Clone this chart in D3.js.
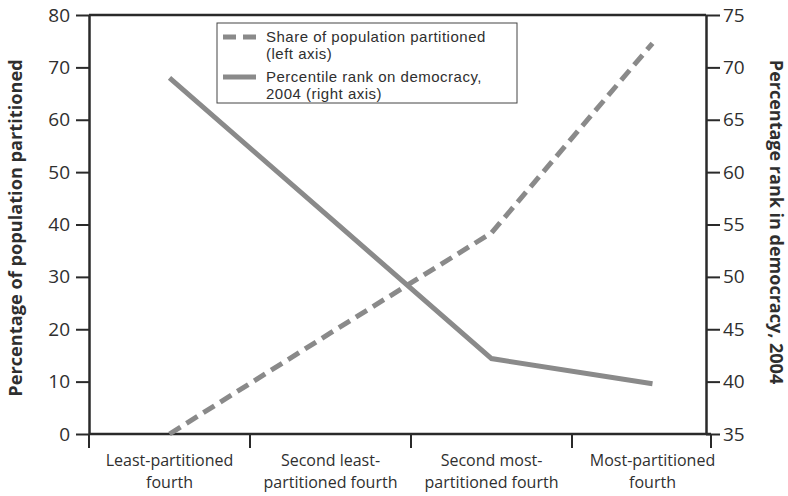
<!DOCTYPE html>
<html>
<head>
<meta charset="utf-8">
<script src="https://cdn.jsdelivr.net/npm/d3@7"></script>
<style>
  html, body { margin: 0; padding: 0; background: #fff; }
  svg { display: block; font-family: "Open Sans", sans-serif; }
</style>
</head>
<body>
<div id="chart-container"></div>
<script>
// data
const categories = ["Least-partitioned fourth", "Second least-partitioned fourth",
                    "Second most-partitioned fourth", "Most-partitioned fourth"];
const categoryLines = [["Least-partitioned", "fourth"], ["Second least-", "partitioned fourth"],
                       ["Second most-", "partitioned fourth"], ["Most-partitioned", "fourth"]];
const shareLeft = [0, 19.3, 38.4, 74.6];        // dashed, left axis
const rankRight = [69, 55.6, 42.2, 39.8];       // solid, right axis
const leftTicks = [0, 10, 20, 30, 40, 50, 60, 70, 80];
const rightTicks = [35, 40, 45, 50, 55, 60, 65, 70, 75];
const legendItems = [
  {lines: ["Share of population partitioned", "(left axis)"], dash: true},
  {lines: ["Percentile rank on democracy,", "2004 (right axis)"], dash: false}
];

const width = 788, height = 496;
const pL = 89, pR = 706, pT = 15, pB = 434;
const axisCol = "#2a2a2a", textCol = "#2f2f2f", lineCol = "#8a8a8a";

const svg = d3.select("#chart-container").append("svg")
  .attr("width", width).attr("height", height);

const x = d3.scaleBand().domain(categories).range([pL, pL + 4 * 161]);
const yL = d3.scaleLinear().domain([0, 80]).range([pB, pT]);
const yR = d3.scaleLinear().domain([35, 75]).range([pB, pT]);

// frame
svg.append("line").attr("x1", pL).attr("x2", pR).attr("y1", pT).attr("y2", pT)
  .attr("stroke", axisCol).attr("stroke-width", 2.5);

// left axis
const gL = svg.append("g").attr("transform", `translate(${pL},0)`)
  .call(d3.axisLeft(yL).tickValues(leftTicks).tickSize(13).tickPadding(6).tickSizeOuter(0));
gL.select(".domain").attr("stroke", axisCol).attr("stroke-width", 2.5);
gL.selectAll(".tick line").attr("stroke", axisCol).attr("stroke-width", 2);
gL.selectAll(".tick text").attr("fill", textCol).style("font-size", "19px")
  .style("font-family", "Open Sans, sans-serif");

// right axis
const gR = svg.append("g").attr("transform", `translate(${pR},0)`)
  .call(d3.axisRight(yR).tickValues(rightTicks).tickSize(14).tickPadding(3).tickSizeOuter(0));
gR.select(".domain").attr("stroke", axisCol).attr("stroke-width", 2.5);
gR.selectAll(".tick line").attr("stroke", axisCol).attr("stroke-width", 2);
gR.selectAll(".tick text").attr("fill", textCol).style("font-size", "19px")
  .style("font-family", "Open Sans, sans-serif");

// bottom axis
const gB = svg.append("g");
gB.append("line").attr("x1", pL).attr("x2", pR + 5).attr("y1", pB).attr("y2", pB)
  .attr("stroke", axisCol).attr("stroke-width", 2.5);
const tickXs = categories.map(c => x(c)).concat([pR + 5]);
gB.selectAll("line.tk").data(tickXs).join("line").attr("class", "tk")
  .attr("x1", d => d).attr("x2", d => d).attr("y1", pB).attr("y2", pB + 14)
  .attr("stroke", axisCol).attr("stroke-width", 2);
gB.selectAll("text").data(categories).join("text")
  .attr("x", d => x(d) + x.bandwidth() / 2)
  .attr("text-anchor", "middle").attr("fill", textCol)
  .style("font-size", "16px")
  .each(function(d, i) {
    d3.select(this).selectAll("tspan").data(categoryLines[i]).join("tspan")
      .attr("x", x(d) + x.bandwidth() / 2)
      .attr("y", (t, j) => 466 + j * 22)
      .text(t => t);
  });

// axis titles
svg.append("text").attr("transform", "translate(22,228) rotate(-90)")
  .attr("text-anchor", "middle").attr("fill", textCol)
  .style("font-size", "18.2px").style("font-weight", "bold")
  .text("Percentage of population partitioned");
svg.append("text").attr("transform", "translate(770,222) rotate(90)")
  .attr("text-anchor", "middle").attr("fill", textCol)
  .style("font-size", "18px").style("font-weight", "bold")
  .text("Percentage rank in democracy, 2004");

// lines
const cx = d => x(d) + x.bandwidth() / 2;
svg.append("path")
  .datum(categories.map((c, i) => [cx(c), yL(shareLeft[i])]))
  .attr("d", d3.line())
  .attr("fill", "none").attr("stroke", lineCol).attr("stroke-width", 5)
  .attr("stroke-dasharray", "13,7").attr("stroke-dashoffset", 20);
svg.append("path")
  .datum(categories.map((c, i) => [cx(c), yR(rankRight[i])]))
  .attr("d", d3.line())
  .attr("fill", "none").attr("stroke", lineCol).attr("stroke-width", 5);

// legend
const lg = svg.append("g");
lg.append("rect").attr("x", 217).attr("y", 23).attr("width", 300).attr("height", 80)
  .attr("fill", "#fff").attr("stroke", "#444").attr("stroke-width", 1);
legendItems.forEach((it, i) => {
  const y0 = 37 + i * 40;
  lg.append("line").attr("x1", 223).attr("x2", 256).attr("y1", y0).attr("y2", y0)
    .attr("stroke", lineCol).attr("stroke-width", 5)
    .attr("stroke-dasharray", it.dash ? "13,7" : null);
  lg.append("text").attr("fill", textCol)
    .style("font-family", "'Liberation Sans', Arial, sans-serif")
    .style("font-size", "15px").style("letter-spacing", "0.5px")
    .selectAll("tspan").data(it.lines).join("tspan")
    .attr("x", 266).attr("y", (t, j) => y0 + 5 + j * 17).text(t => t);
});
</script>
</body>
</html>
